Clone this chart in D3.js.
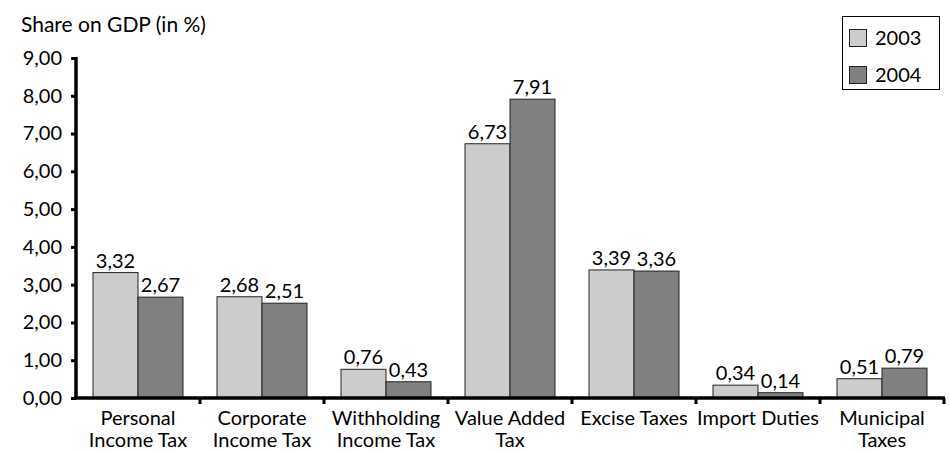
<!DOCTYPE html>
<html><head><meta charset="utf-8">
<script src="https://cdn.jsdelivr.net/npm/d3@7"></script>
<style>body{margin:0;background:#fff}svg{display:block}text{font-family:Lato,sans-serif;fill:#000}</style>
</head><body>
<svg id="c" width="950" height="452"></svg>
<script>
const categories = [["Personal","Income Tax"],["Corporate","Income Tax"],["Withholding","Income Tax"],["Value Added","Tax"],["Excise Taxes"],["Import Duties"],["Municipal","Taxes"]];
const values2003 = [3.32, 2.68, 0.76, 6.73, 3.39, 0.34, 0.51];
const values2004 = [2.67, 2.51, 0.43, 7.91, 3.36, 0.14, 0.79];
const seriesNames = ["2003","2004"];
const yTicks = [0,1,2,3,4,5,6,7,8,9];
const colors = ["#cccccc","#808080"];

const svg = d3.select("#c");
const fmt = v => v.toFixed(2).replace(".", ",");
const x = d3.scaleBand().domain(d3.range(categories.length)).range([76, 944]);
const xs = d3.scaleBand().domain([0,1]).range([17, x.bandwidth() - 17]);
const y = d3.scaleLinear().domain([0,9]).range([398, 58]);
const fs = 20;

const series = [values2003, values2004];
series.forEach((vals, si) => {
  svg.append("g").selectAll("rect").data(vals).join("rect")
    .attr("x", (d,i) => x(i) + xs(si))
    .attr("width", xs.bandwidth())
    .attr("y", d => y(d))
    .attr("height", d => y(0) - y(d))
    .attr("fill", colors[si]).attr("stroke", "#222").attr("stroke-width", 1);
  svg.append("g").selectAll("text").data(vals).join("text")
    .attr("x", (d,i) => x(i) + xs(si) + xs.bandwidth()/2)
    .attr("y", d => y(d) - 5)
    .attr("text-anchor", "middle").attr("font-size", fs)
    .text(fmt);
});

const ya = svg.append("g").attr("transform", "translate(76,0)")
  .call(d3.axisLeft(y).tickValues(yTicks).tickFormat(fmt).tickSize(5).tickPadding(9));
ya.select(".domain").attr("stroke-width", 3.5).attr("d", `M0,${y(9)-1}V${y(0)}`);
ya.selectAll(".tick line").attr("stroke-width", 3);
ya.selectAll(".tick text").attr("font-size", fs).attr("font-family", "Lato");

const xa = svg.append("g").attr("transform", `translate(0,${y(0)})`);
xa.append("line").attr("x1", 74).attr("x2", 945).attr("y1", 0).attr("y2", 0).attr("stroke", "#000").attr("stroke-width", 3.5);
xa.selectAll("line.t").data(d3.range(1, categories.length + 1)).join("line").attr("class","t")
  .attr("x1", d => x.range()[0] + d * x.step()).attr("x2", d => x.range()[0] + d * x.step())
  .attr("y1", 0).attr("y2", 6).attr("stroke", "#000").attr("stroke-width", 3);
categories.forEach((lines, i) => {
  const cx = x(i) + x.bandwidth()/2;
  lines.forEach((l, k) => xa.append("text").attr("text-anchor", "middle").attr("font-size", fs)
    .attr("x", cx).attr("y", 27 + k * 22).text(l));
});

svg.append("text").attr("x", 21).attr("y", 32).attr("font-size", 21).text("Share on GDP (in %)");

const lg = svg.append("g");
lg.append("rect").attr("x", 842.5).attr("y", 16.5).attr("width", 97).attr("height", 73).attr("fill", "#fff").attr("stroke", "#000").attr("stroke-width", 1);
seriesNames.forEach((n, i) => {
  lg.append("rect").attr("x", 849.5).attr("y", 29.5 + i * 37).attr("width", 17).attr("height", 17).attr("fill", colors[i]).attr("stroke", "#222");
  lg.append("text").attr("x", 875).attr("y", 45 + i * 37).attr("font-size", fs).text(n);
});
</script>
</body></html>
